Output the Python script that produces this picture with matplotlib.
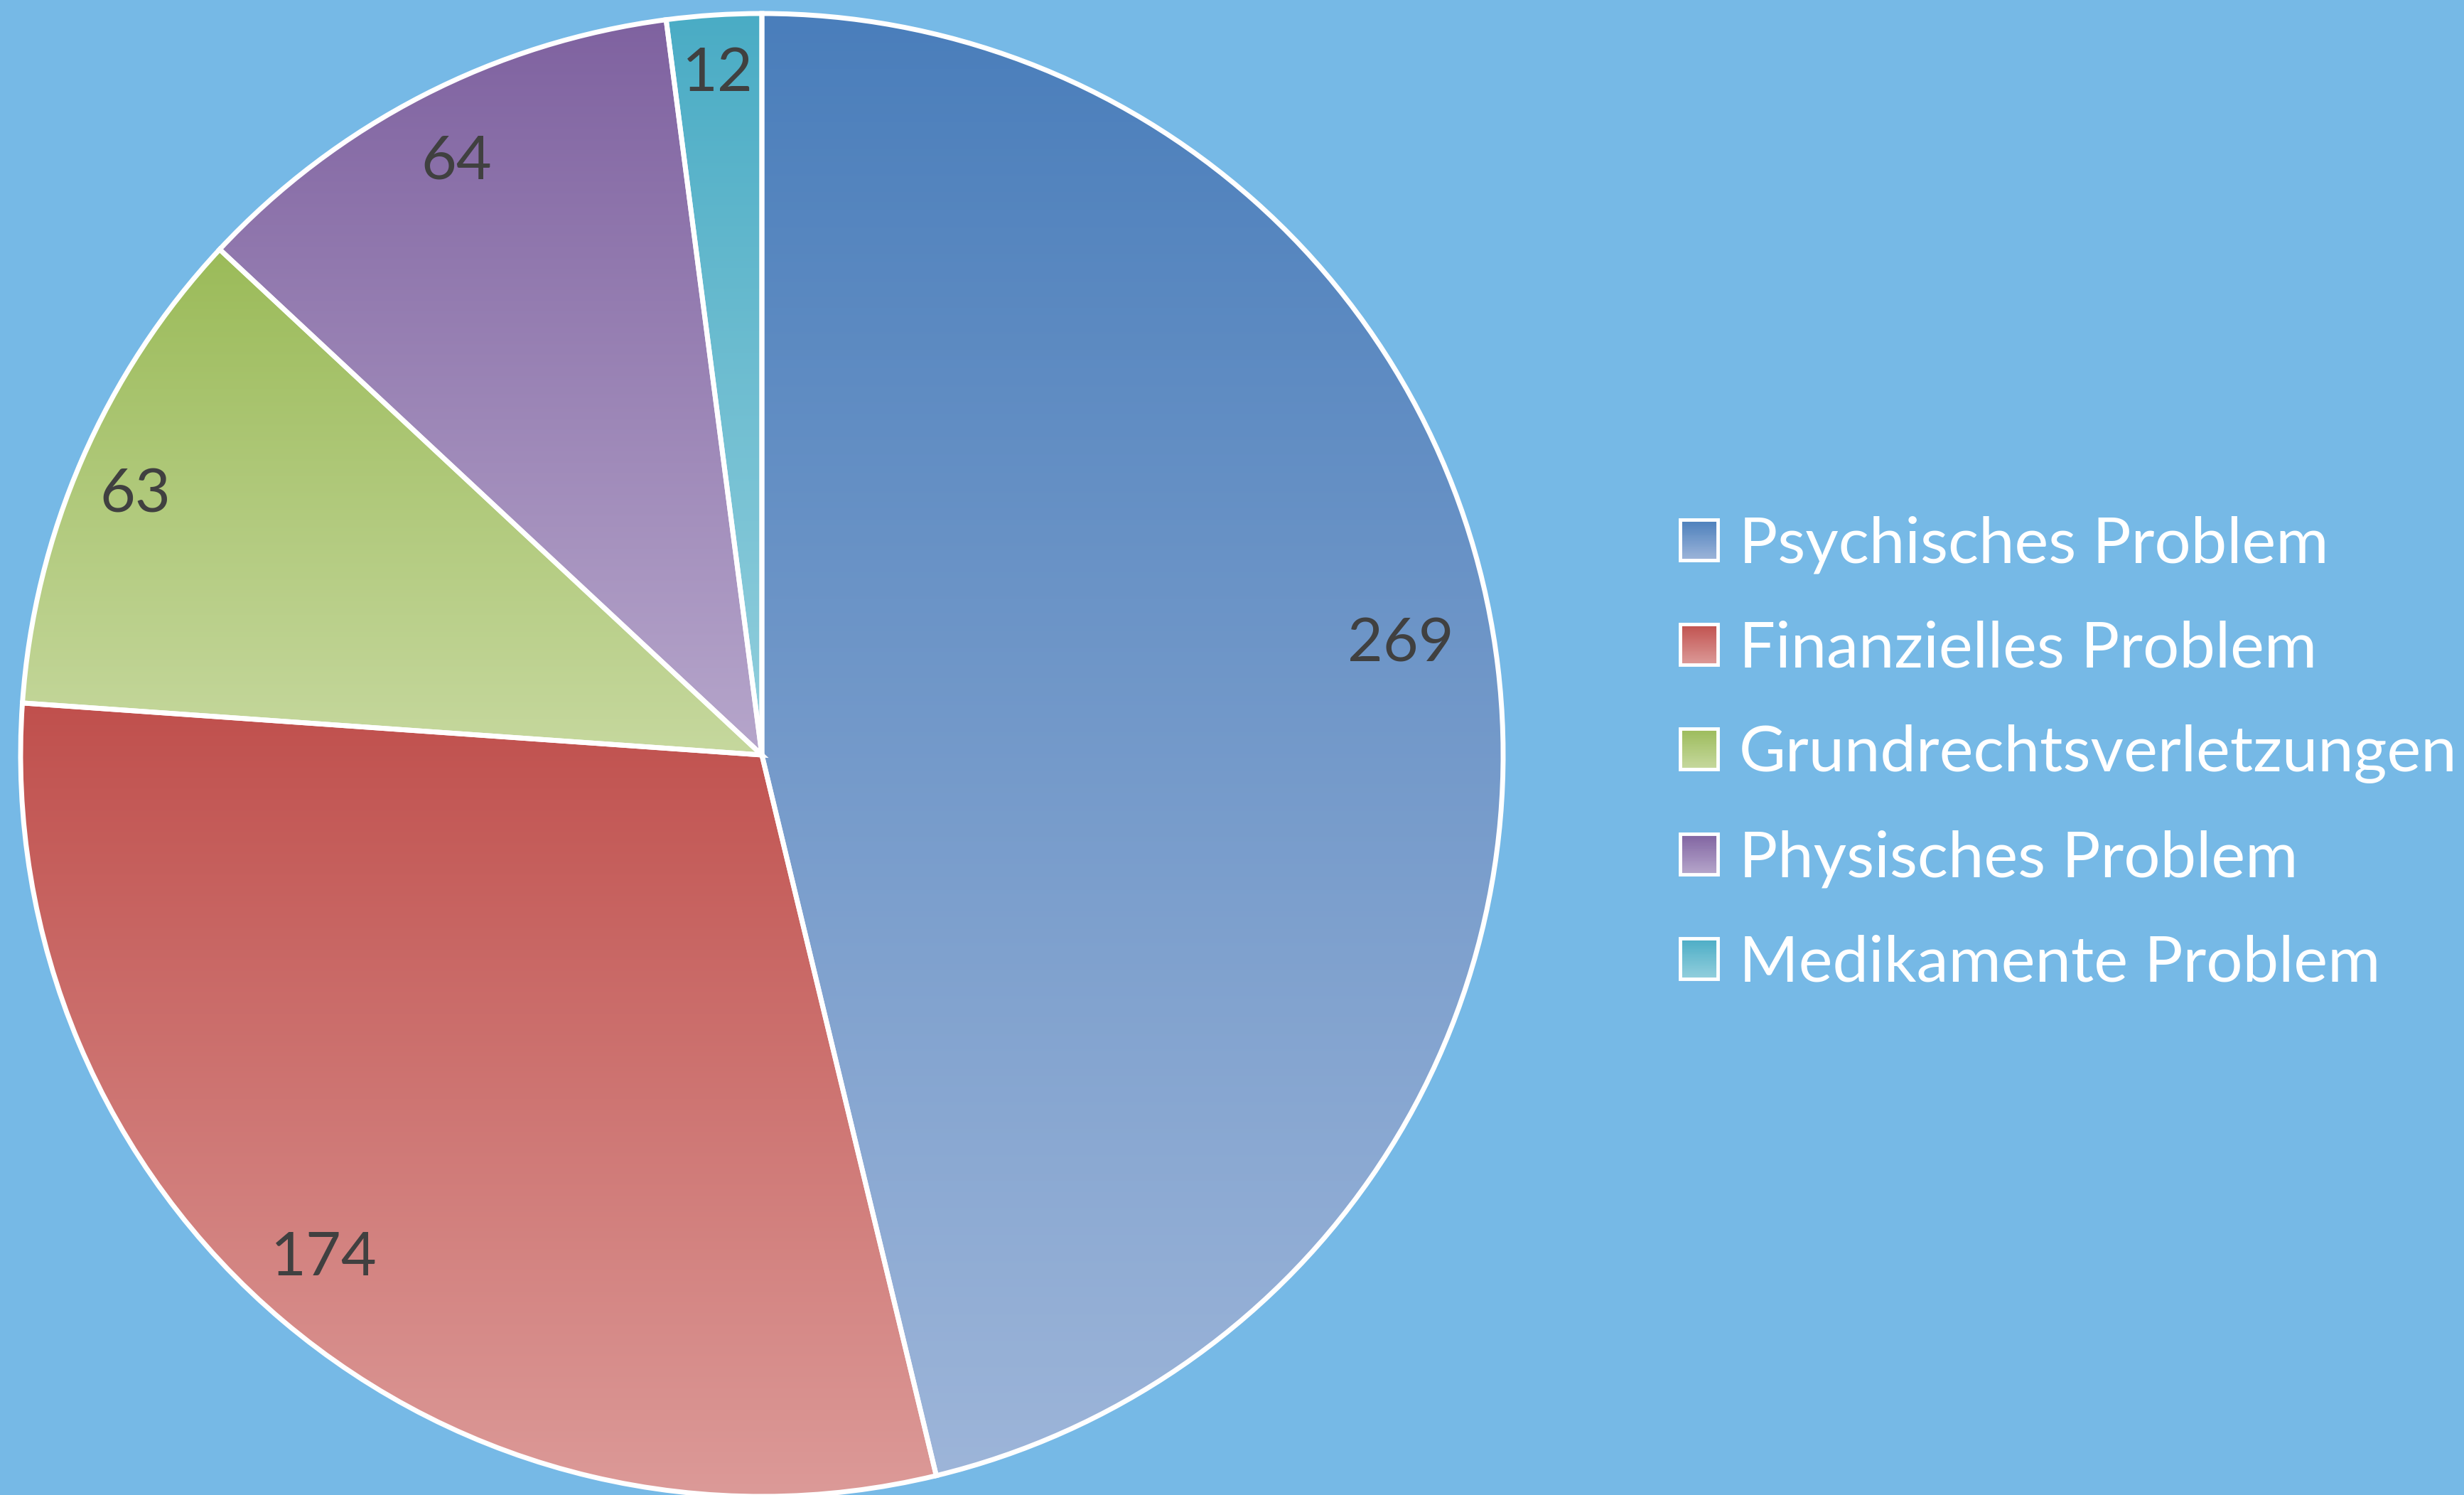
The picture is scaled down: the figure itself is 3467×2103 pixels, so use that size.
import numpy as np
import matplotlib
matplotlib.use("Agg")
import matplotlib.pyplot as plt
from matplotlib.patches import Rectangle
from matplotlib.legend_handler import HandlerBase
from matplotlib.colors import to_rgb

# ---- data ----
categories = ["Psychisches Problem", "Finanzielles Problem", "Grundrechtsverletzungen",
              "Physisches Problem", "Medikamente Problem"]
values = [269, 174, 63, 64, 12]

# ---- style ----
top_colors = ["#4a7ebb", "#c0504d", "#9bbb59", "#7f62a0", "#4aacc5"]
bottom_colors = ["#9db5d9", "#dc9a98", "#c6d89e", "#b6a6cb", "#93cfdd"]
label_dist = [0.875, 0.90, 0.915, 0.90, 0.92]
label_angle_shift = [3.0, -0.8, 1.0, 0.0, 0.0]
bg = "#76b9e6"
FONT = ["Lato", "DejaVu Sans"]

W, H = 3467, 2103
fig = plt.figure(figsize=(W / 100, H / 100), dpi=100, facecolor=bg)
ax = fig.add_axes([0, 0, 1, 1])
ax.set_facecolor(bg)

cx, cy, R = 1072, 1041, 1043
wedges, _ = ax.pie(values, startangle=90, counterclock=False, center=(cx, cy), radius=R,
                   wedgeprops=dict(facecolor="none", edgecolor="white", linewidth=5, zorder=3))

def grad_array(top, bottom, n=256):
    t = np.linspace(0, 1, n)[:, None, None]
    a = np.array(to_rgb(top))[None, None, :]
    b = np.array(to_rgb(bottom))[None, None, :]
    return a * (1 - t) + b * t

for w, tc, bc, d, s, v in zip(wedges, top_colors, bottom_colors, label_dist,
                              label_angle_shift, values):
    ext = w.get_path().get_extents()
    im = ax.imshow(grad_array(tc, bc), extent=(ext.x0, ext.x1, ext.y0, ext.y1),
                   origin="upper", interpolation="bilinear", aspect="auto", zorder=2)
    im.set_clip_path(w)
    ang = np.deg2rad((w.theta1 + w.theta2) / 2 + s)
    ax.text(cx + d * R * np.cos(ang), cy + d * R * np.sin(ang), str(v),
            ha="center", va="center", fontsize=62, color="#404040", family=FONT, zorder=4)

ax.set_xlim(0, W)
ax.set_ylim(0, H)
ax.set_aspect("equal")
ax.axis("off")


class GradHandler(HandlerBase):
    def __init__(self, top, bottom):
        super().__init__()
        self.top = np.array(to_rgb(top))
        self.bottom = np.array(to_rgb(bottom))

    def create_artists(self, legend, orig_handle, xdescent, ydescent, width, height,
                       fontsize, trans):
        arts = []
        n = 30
        for k in range(n):
            t = (k + 0.5) / n
            col = self.top * (1 - t) + self.bottom * t
            y = -ydescent + height * (1 - (k + 1) / n)
            arts.append(Rectangle((-xdescent, y), width, height / n * 1.3, facecolor=col,
                                  edgecolor="none", antialiased=False, transform=trans))
        arts.append(Rectangle((-xdescent, -ydescent), width, height, facecolor="none",
                              edgecolor="white", linewidth=3.5, transform=trans))
        return arts


handles = [Rectangle((0, 0), 1, 1) for _ in categories]
hmap = {h: GradHandler(tc, bc) for h, tc, bc in zip(handles, top_colors, bottom_colors)}
leg = fig.legend(handles, categories, handler_map=hmap, loc="center left",
                 bbox_to_anchor=(2364 / W, (H - 1061) / H), frameon=False,
                 prop={"family": FONT, "size": 65}, labelcolor="white",
                 handlelength=0.59, handleheight=0.59, handletextpad=0.33,
                 labelspacing=0.72, borderpad=0, borderaxespad=0)

fig.savefig("out.png", dpi=100, facecolor=bg)
